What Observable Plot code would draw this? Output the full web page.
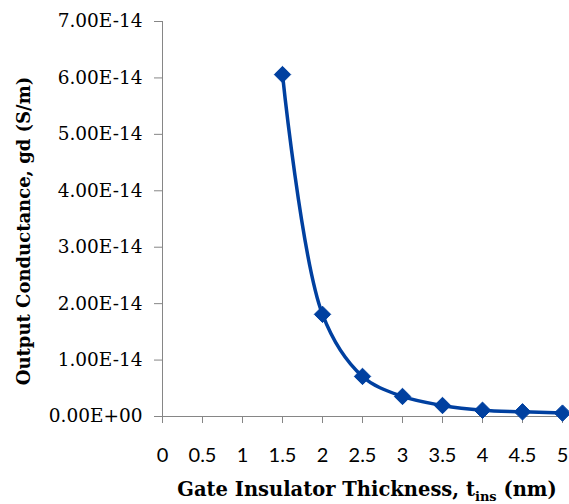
<!DOCTYPE html>
<html>
<head>
<meta charset="utf-8">
<script src="https://cdn.jsdelivr.net/npm/d3@7"></script>
<script src="https://cdn.jsdelivr.net/npm/@observablehq/plot@0.6"></script>
<style>
  html, body { margin: 0; padding: 0; background: white; }
</style>
</head>
<body>
<div id="chart"></div>
<script>
const thickness = [1.5, 2, 2.5, 3, 3.5, 4, 4.5, 5];
const gd = [6.06e-14, 1.81e-14, 0.71e-14, 0.355e-14, 0.195e-14, 0.11e-14, 0.083e-14, 0.06e-14];
const xTicks = [0, 0.5, 1, 1.5, 2, 2.5, 3, 3.5, 4, 4.5, 5];
const yTicks = [0, 1e-14, 2e-14, 3e-14, 4e-14, 5e-14, 6e-14, 7e-14];
const yTitle = "Output Conductance, gd (S/m)";
const xTitleMain = "Gate Insulator Thickness, t";
const xTitleSub = "ins";
const xTitleEnd = " (nm)";

const data = thickness.map((t, i) => ({t, g: gd[i]}));

function sci(d) {
  if (d === 0) return "0.00E+00";
  const e = Math.floor(Math.log10(Math.abs(d)) + 1e-9);
  const m = d / Math.pow(10, e);
  const ea = Math.abs(e);
  return m.toFixed(2) + "E" + (e < 0 ? "-" : "+") + (ea < 10 ? "0" + ea : ea);
}

const blue = "#0040a0";
const grey = "#868686";

const chart = Plot.plot({
  width: 569,
  height: 504,
  marginLeft: 162,
  marginRight: 7,
  marginTop: 21,
  marginBottom: 88,
  style: {background: "white", color: "black"},
  x: {domain: [0, 5]},
  y: {domain: [0, 7e-14]},
  marks: [
    Plot.axisY({ticks: yTicks, tickFormat: sci, tickSize: 8, tickPadding: 12, stroke: grey,
      fontSize: 18.5, fontFamily: "DejaVu Serif", label: null}),
    Plot.axisX({ticks: xTicks, tickFormat: d => String(d), tickSize: 7, tickPadding: 24, stroke: grey,
      fontSize: 20, fontFamily: "Lato", label: null}),
    Plot.ruleX([0], {stroke: grey}),
    Plot.ruleY([0], {stroke: grey}),
    Plot.text([yTitle], {frameAnchor: "left", textAnchor: "middle", rotate: -90, dx: -138, dy: 12,
      fontSize: 18, fontWeight: "bold", fontFamily: "DejaVu Serif", fill: "black"}),
    Plot.line(data, {x: "t", y: "g", curve: "catmull-rom", stroke: blue, strokeWidth: 3.5}),
    Plot.dot(data, {x: "t", y: "g", symbol: "diamond2", r: 7.4, fill: blue, stroke: blue, strokeWidth: 1})
  ]
});

const svg = d3.select(chart);
const tt = svg.append("text")
  .attr("x", 367)
  .attr("y", 496)
  .attr("text-anchor", "middle")
  .attr("font-family", "DejaVu Serif")
  .attr("font-weight", "bold")
  .attr("font-size", 19.5)
  .attr("fill", "black");
tt.append("tspan").text(xTitleMain);
tt.append("tspan").attr("font-size", 13).attr("dy", 5).text(xTitleSub);
tt.append("tspan").attr("dy", -5).text(xTitleEnd);

document.getElementById("chart").appendChild(chart);
</script>
</body>
</html>
